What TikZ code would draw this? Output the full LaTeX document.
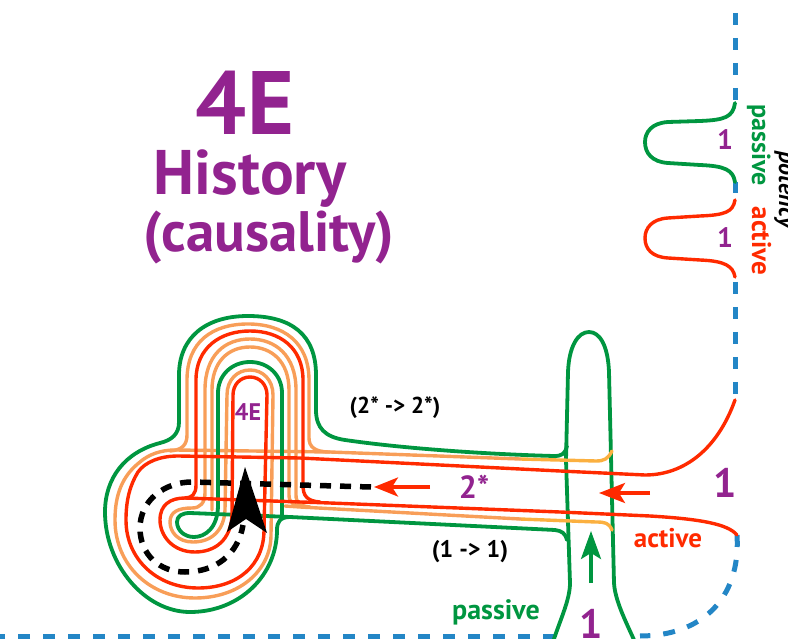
\documentclass[tikz,border=0pt]{standalone}
\usepackage{fontspec}
\setmainfont{PT Sans}
\usetikzlibrary{arrows.meta}
\definecolor{gr}{RGB}{0,150,64}
\definecolor{orl}{RGB}{248,158,88}
\definecolor{yor}{RGB}{251,176,64}
\definecolor{rd}{RGB}{255,42,0}
\definecolor{bl}{RGB}{35,134,198}
\definecolor{pu}{RGB}{146,35,143}
\begin{document}
\begin{tikzpicture}[x=1pt,y=-1pt,
  gl/.style={draw=gr,line width=3.8pt,line cap=round,line join=round},
  ol/.style={draw=orl,line width=3.4pt,line cap=round,line join=round},
  yl/.style={draw=yor,line width=3.4pt,line cap=round,line join=round},
  rl/.style={draw=rd,line width=3.4pt,line cap=round,line join=round},
  bdash/.style={draw=bl,line width=5pt,dash pattern=on 12pt off 13pt},
  kdash/.style={draw=black,line width=5.5pt,dash pattern=on 11pt off 9pt},
  lbl/.style={inner sep=0pt,font=\bfseries},
]
\useasboundingbox (0,0) rectangle (788,639);

% ---------- blue dashed frame ----------
\draw[bdash] (735,13) -- (735,103);
\draw[draw=bl,line width=5pt] (735,182) -- (735,193);
\draw[bdash] (735,282) -- (735,400);
\draw[bdash] (737,535) .. controls (741,600) and (700,636) .. (640,636);
\draw[bdash] (555,636) -- (0,636);

% ---------- right bumps ----------
\draw[gl] (735,103) .. controls (733,117) and (725,120) .. (700,121) -- (668,122)
  .. controls (652,123) and (645,132) .. (645,142)
  .. controls (645,153) and (652,162) .. (668,163) -- (700,165)
  .. controls (725,166) and (733,170) .. (735,182);
\draw[rl] (735,200) .. controls (733,212) and (725,215) .. (700,216) -- (668,218)
  .. controls (652,219) and (645,228) .. (645,238)
  .. controls (645,249) and (652,257) .. (668,258) -- (700,260)
  .. controls (725,261) and (733,266) .. (735,277);

% ---------- vertical green tube ----------
\draw[gl] (553,642) .. controls (560,620) and (570,600) .. (570,583) -- (566,460)
  -- (568,372) .. controls (569,346) and (578,332) .. (589,332)
  .. controls (600,332) and (608,346) .. (609,372) -- (614,583)
  .. controls (615,600) and (625,620) .. (635,642);

% ---------- orange lines ----------
\draw[yl] (612,451) .. controls (608,459) and (604,461) .. (596,461) -- (520,459);
\draw[ol] (520,459) -- (330,452) -- (175,450)
  .. controls (160,450) and (148,455) .. (140,462)
  .. controls (122,476) and (115,495) .. (115,520)
  .. controls (115,565) and (150,598) .. (195,598)
  .. controls (240,598) and (271,570) .. (271,535)
  -- (273,395) .. controls (273,380) and (263,370) .. (250,370)
  .. controls (237,370) and (227,380) .. (227,395)
  -- (225,510) .. controls (224,530) and (212,542) .. (193,542)
  .. controls (178,542) and (170,532) .. (170,522)
  .. controls (170,512) and (178,508) .. (192,508)
  .. controls (200,508) and (205,503) .. (205,493) -- (205,390)
  .. controls (205,355) and (225,339) .. (250,339)
  .. controls (275,339) and (296,355) .. (296,390) -- (296,495)
  .. controls (296,503) and (300,506) .. (310,507);
\draw[yl] (612,530) .. controls (609,523) and (605,522) .. (596,522) -- (520,519);
\draw[ol] (520,519) -- (300,507) -- (285,506);
\draw[ol] (330,452) .. controls (315,452) and (309,447) .. (309,438) -- (309,380)
  .. controls (309,342) and (283,324) .. (248,324)
  .. controls (212,324) and (187,342) .. (187,380) -- (187,435)
  .. controls (187,445) and (182,450) .. (170,451);
\draw[ol] (305,507) .. controls (294,506) and (289,503) .. (289,495) -- (289,390)
  .. controls (289,362) and (272,347) .. (250,347)
  .. controls (228,347) and (212,362) .. (212,390) -- (212,510);

% ---------- green lines ----------
\draw[gl] (567,446) .. controls (565,454) and (562,456) .. (554,456)
  .. controls (480,454) and (400,448) .. (345,440)
  .. controls (325,437) and (316,428) .. (316,410) -- (316,375)
  .. controls (316,335) and (292,316) .. (248,316)
  .. controls (205,316) and (179,338) .. (179,375) -- (179,422)
  .. controls (179,434) and (172,440) .. (160,443)
  .. controls (125,452) and (105,478) .. (105,512)
  .. controls (105,565) and (145,612) .. (190,612)
  .. controls (240,612) and (277,575) .. (277,530)
  .. controls (277,522) and (280,517) .. (290,517)
  -- (555,530) .. controls (562,531) and (565,533) .. (567,540);
\draw[gl] (282,517) -- (282,393) .. controls (282,375) and (268,362) .. (250,362)
  .. controls (232,362) and (218,375) .. (218,393) -- (218,505)
  .. controls (218,528) and (205,537) .. (194,537)
  .. controls (184,537) and (177,530) .. (177,522)
  .. controls (177,516) and (182,513) .. (190,513) -- (290,517);

% ---------- red lines ----------
\draw[rl] (735,400) .. controls (718,448) and (685,475) .. (645,475) -- (560,471)
  -- (300,458) -- (178,456)
  .. controls (160,456) and (145,462) .. (138,472)
  .. controls (130,485) and (126,500) .. (126,520)
  .. controls (126,560) and (158,588) .. (198,588)
  .. controls (238,588) and (264,565) .. (264,530) -- (267,395)
  .. controls (267,385) and (260,377) .. (250,377)
  .. controls (240,377) and (233,385) .. (233,395) -- (232,515)
  .. controls (231,540) and (215,552) .. (195,552)
  .. controls (172,552) and (160,535) .. (160,520)
  .. controls (160,505) and (170,498) .. (185,498)
  -- (330,503) -- (560,512) -- (650,516)
  .. controls (700,519) and (728,524) .. (737,535);
\draw[rl] (320,502) .. controls (307,501) and (303,496) .. (303,485) -- (303,380)
  .. controls (303,348) and (280,331) .. (250,331)
  .. controls (220,331) and (196,348) .. (196,380) -- (196,485)
  .. controls (196,494) and (192,498) .. (185,498);

% ---------- black dashed spiral + arrowhead ----------
\draw[kdash] (371,487) -- (300,485) -- (192,482)
  .. controls (165,482) and (140,500) .. (140,528)
  .. controls (140,555) and (160,572) .. (185,572)
  .. controls (215,572) and (238,555) .. (243,525);
\fill[black] (245,467) -- (267,533) -- (246,519) -- (227,532) -- cycle;

% ---------- arrows ----------
\coordinate (ra1) at (430,487); \coordinate (ra2) at (374,487);
\draw[rd,line width=3.4pt,-{Stealth[length=24pt,width=19pt,inset=6pt]}] (ra1) -- (ra2);
\coordinate (rb1) at (650,493); \coordinate (rb2) at (599,493);
\draw[rd,line width=3.4pt,-{Stealth[length=26pt,width=20pt,inset=6pt]}] (rb1) -- (rb2);
\coordinate (ga1) at (591,583); \coordinate (ga2) at (591,531);
\draw[gr,line width=3.4pt,-{Stealth[length=28pt,width=20pt,inset=6pt]}] (ga1) -- (ga2);

% ---------- texts ----------
\node[lbl,text=pu,font=\bfseries\fontsize{90}{90}\selectfont,anchor=base] (title) at (245,135) {4E};
\node[lbl,text=pu,font=\bfseries\fontsize{63}{63}\selectfont,anchor=base] (hist) at (250,195) {History};
\node[lbl,text=pu,font=\bfseries\fontsize{57}{57}\selectfont,anchor=base] (caus) at (269,252) {(causality)};
\node[lbl,text=pu,font=\bfseries\fontsize{24}{24}\selectfont] (small4E) at (248,412) {4E};
\node[lbl,text=black,font=\bfseries\fontsize{23}{23}\selectfont] (l22) at (395,408) {(2*~-> 2*)};
\node[lbl,text=black,font=\bfseries\fontsize{24}{24}\selectfont] (l11) at (470,552) {(1~-> 1)};
\node[lbl,text=pu,font=\bfseries\fontsize{32}{32}\selectfont] (two) at (474,487) {2*};
\node[lbl,text=pu,font=\bfseries\fontsize{41}{41}\selectfont] (oneR) at (725,483) {1};
\node[lbl,text=rd,font=\bfseries\fontsize{27}{27}\selectfont] (actB) at (668,538) {active};
\node[lbl,text=gr,font=\bfseries\fontsize{28}{28}\selectfont] (pasB) at (496,612) {passive};
\node[lbl,text=pu,font=\bfseries\fontsize{41}{41}\selectfont,anchor=north] (oneB) at (591,609) {1};
\node[lbl,text=pu,font=\bfseries\fontsize{28}{28}\selectfont] (oneG) at (725,140) {1};
\node[lbl,text=pu,font=\bfseries\fontsize{28}{28}\selectfont] (oneRd) at (725,238) {1};
\node[lbl,text=gr,font=\bfseries\fontsize{26}{26}\selectfont,rotate=-90,anchor=base] (pasR) at (752,145) {passive};
\node[lbl,text=rd,font=\bfseries\fontsize{27}{27}\selectfont,rotate=-90,anchor=base] (actR) at (752,241) {active};
\node[lbl,text=black,font=\bfseries\itshape\fontsize{24}{24}\selectfont,rotate=-90,anchor=base] (pot) at (779,190) {potency};
\end{tikzpicture}
\end{document}
